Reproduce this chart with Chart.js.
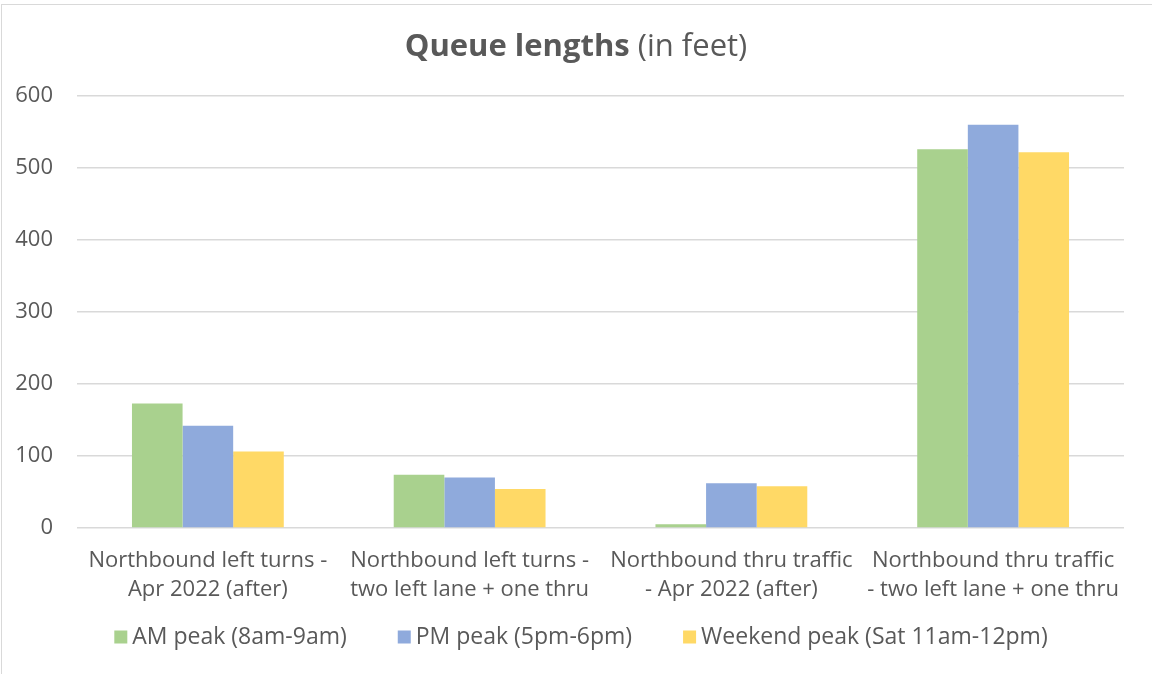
<!DOCTYPE html>
<html>
<head>
<meta charset="utf-8">
<script src="https://cdn.jsdelivr.net/npm/chart.js"></script>
<style>
  html, body { margin: 0; padding: 0; background: #fff; overflow: hidden; }
  #frame { position: absolute; left: 1px; top: 4px; width: 1200px; height: 700px; border: 1px solid #d9d9d9; }
  #wrap { position: absolute; left: 0; top: 0; width: 1152px; height: 674px; }
</style>
</head>
<body>
<div id="frame"></div>
<div id="wrap"><canvas id="queueChart"></canvas></div>
<script>
const categories = [
    ['Northbound left turns -', 'Apr 2022 (after)'],
    ['Northbound left turns -', 'two left lane + one thru'],
    ['Northbound thru traffic', '- Apr 2022 (after)'],
    ['Northbound thru traffic', '- two left lane + one thru']
];
const amPeak = [173, 74, 5, 526];
const pmPeak = [142, 70, 62, 560];
const weekendPeak = [106, 54, 58, 522];
const seriesNames = ['AM peak (8am-9am)', 'PM peak (5pm-6pm)', 'Weekend peak (Sat 11am-12pm)'];
const seriesColors = ['#A9D18E', '#8FAADC', '#FFD966'];

const FONT = "'Open Sans', 'Noto Sans', sans-serif";
const TEXT = '#595959';
const FS = 22;

// title with bold + normal parts
const titlePlugin = {
    id: 'mixedTitle',
    afterDraw(chart) {
        const ctx = chart.ctx;
        const boldPart = 'Queue lengths';
        const normalPart = ' (in feet)';
        ctx.save();
        ctx.textBaseline = 'alphabetic';
        ctx.fillStyle = TEXT;
        ctx.font = 'bold 31px ' + FONT;
        const w1 = ctx.measureText(boldPart).width;
        ctx.font = '31px ' + FONT;
        const w2 = ctx.measureText(normalPart).width;
        const x = 576 - (w1 + w2) / 2;
        ctx.font = 'bold 31px ' + FONT;
        ctx.fillText(boldPart, x, 56);
        ctx.font = '31px ' + FONT;
        ctx.fillText(normalPart, x + w1, 56);
        ctx.restore();
    }
};

// legend drawn by hand so the spacing can match
const legendPlugin = {
    id: 'bottomLegend',
    afterDraw(chart) {
        const ctx = chart.ctx;
        const box = 13, gap = 5, spacing = 51, y = 637;
        ctx.save();
        ctx.font = '23px ' + FONT;
        ctx.textBaseline = 'middle';
        const items = chart.data.datasets.map(ds => ({
            text: ds.label, color: ds.backgroundColor, w: ctx.measureText(ds.label).width
        }));
        const total = items.reduce((s, it) => s + box + gap + it.w, 0) + spacing * (items.length - 1);
        let x = 581 - total / 2;
        items.forEach(it => {
            ctx.fillStyle = it.color;
            ctx.fillRect(x, y - box / 2, box, box);
            x += box + gap;
            ctx.fillStyle = TEXT;
            ctx.fillText(it.text, x, y);
            x += it.w + spacing;
        });
        ctx.restore();
    }
};

const ctx = document.getElementById('queueChart').getContext('2d');
new Chart(ctx, {
    type: 'bar',
    data: {
        labels: categories,
        datasets: [
            { label: seriesNames[0], data: amPeak, backgroundColor: seriesColors[0] },
            { label: seriesNames[1], data: pmPeak, backgroundColor: seriesColors[1] },
            { label: seriesNames[2], data: weekendPeak, backgroundColor: seriesColors[2] }
        ]
    },
    options: {
        responsive: true,
        maintainAspectRatio: false,
        animation: false,
        layout: { padding: { top: 96, right: 28, left: 0, bottom: 60 } },
        datasets: { bar: { categoryPercentage: 0.58, barPercentage: 1.0 } },
        plugins: {
            legend: { display: false },
            tooltip: { enabled: false }
        },
        scales: {
            x: {
                grid: { display: false },
                border: { display: false },
                ticks: {
                    color: TEXT, font: { family: FONT, size: FS, lineHeight: 1.32 },
                    maxRotation: 0, autoSkip: false, padding: 10
                }
            },
            y: {
                min: 0, max: 600,
                afterFit(axis) { axis.width = 77; },
                grid: { color: '#d9d9d9', lineWidth: 1.5, drawTicks: false },
                border: { display: false },
                ticks: {
                    stepSize: 100, color: TEXT, font: { family: FONT, size: FS },
                    padding: 24
                }
            }
        }
    },
    plugins: [titlePlugin, legendPlugin]
});
</script>
</body>
</html>
